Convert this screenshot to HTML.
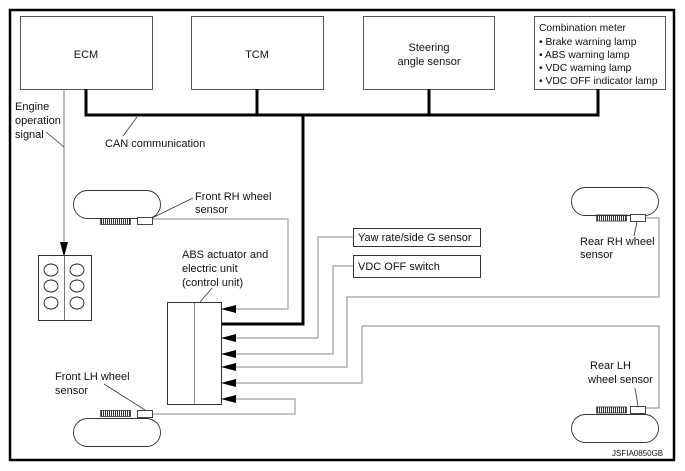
<!DOCTYPE html>
<html><head><style>
html,body{margin:0;padding:0;background:#fff;}
svg{display:block;}
text{font-family:"Liberation Sans",Arial,sans-serif;font-size:11px;fill:#111;}
</style></head><body>
<svg width="685" height="471" viewBox="0 0 685 471" xmlns="http://www.w3.org/2000/svg">
<defs>
<marker id="ar" markerWidth="15" markerHeight="8" refX="14" refY="4" orient="auto" markerUnits="userSpaceOnUse">
<path d="M0,0 L15,4 L0,8 Z" fill="#000"/>
</marker>
</defs>
<rect x="10" y="10" width="664" height="450" fill="none" stroke="#000" stroke-width="2.5"/>
<g fill="#fff" stroke="#555" stroke-width="1">
<rect x="20.5" y="16.5" width="132" height="73"/>
<rect x="191.5" y="16.5" width="132" height="73"/>
<rect x="363.5" y="16.5" width="131" height="73"/>
<rect x="534.5" y="16.5" width="131" height="73"/>
</g>
<text x="86" y="58" text-anchor="middle">ECM</text>
<text x="257" y="58" text-anchor="middle">TCM</text>
<text x="429" y="51" text-anchor="middle">Steering</text>
<text x="429" y="65" text-anchor="middle">angle sensor</text>
<g style="font-size:10.3px">
<text x="539" y="31" style="font-size:10.3px">Combination meter</text>
<text x="539" y="45" style="font-size:10.3px">• Brake warning lamp</text>
<text x="539" y="58" style="font-size:10.3px">• ABS warning lamp</text>
<text x="539" y="71" style="font-size:10.3px">• VDC warning lamp</text>
<text x="539" y="84" style="font-size:10.3px">• VDC OFF indicator lamp</text>
</g>
<g stroke="#000" stroke-width="3" fill="none">
<path d="M86,89 V115 H598 V89"/>
<path d="M257,89 V115"/>
<path d="M429,89 V115"/>
<path d="M303,115 V324 H222"/>
</g>
<text x="105" y="147">CAN communication</text>
<line x1="123" y1="136" x2="137" y2="117" stroke="#333" stroke-width="0.8"/>
<line x1="64" y1="89" x2="64" y2="256" stroke="#777" stroke-width="1" marker-end="url(#ar)"/>
<text x="15" y="110">Engine</text>
<text x="15" y="124">operation</text>
<text x="15" y="138">signal</text>
<line x1="46" y1="132" x2="64" y2="147" stroke="#333" stroke-width="0.8"/>
<rect x="38.5" y="255.5" width="53" height="65" fill="#fff" stroke="#333"/>
<line x1="64.5" y1="256" x2="64.5" y2="320" stroke="#777"/>
<g fill="none" stroke="#222" stroke-width="0.9">
<ellipse cx="51" cy="270" rx="7" ry="6"/><ellipse cx="77" cy="270" rx="7" ry="6"/>
<ellipse cx="51" cy="286" rx="7" ry="6"/><ellipse cx="77" cy="286" rx="7" ry="6"/>
<ellipse cx="51" cy="303" rx="7" ry="6"/><ellipse cx="77" cy="303" rx="7" ry="6"/>
</g>
<rect x="167.5" y="302.5" width="54" height="102" fill="#fff" stroke="#333"/>
<line x1="194.5" y1="303" x2="194.5" y2="404" stroke="#888"/>
<text x="182" y="258">ABS actuator and</text>
<text x="182" y="272">electric unit</text>
<text x="182" y="286">(control unit)</text>
<line x1="212" y1="288" x2="200" y2="302" stroke="#333" stroke-width="0.8"/>
<g fill="none" stroke="#888" stroke-width="1">
<path d="M152,219 H288 V309 H222" marker-end="url(#ar)"/>
<path d="M353,237 H318 V338 H222" marker-end="url(#ar)"/>
<path d="M353,266 H333 V354 H222" marker-end="url(#ar)"/>
<path d="M645,218 H659 V297 H347 V367 H222" marker-end="url(#ar)"/>
<path d="M645,408 H659 V326 H362 V383 H222" marker-end="url(#ar)"/>
<path d="M152,414 H295 V399 H222" marker-end="url(#ar)"/>
</g>
<g fill="#fff" stroke="#333">
<rect x="353.5" y="228.5" width="127" height="18"/>
<rect x="353.5" y="255.5" width="127" height="22"/>
</g>
<text x="358" y="241">Yaw rate/side G sensor</text>
<text x="358" y="270">VDC OFF switch</text>
<g fill="#fff" stroke="#333" stroke-width="0.9">
<rect x="73.5" y="190.5" width="87" height="28" rx="14"/>
<rect x="137.5" y="217.5" width="15" height="7"/>
<rect x="73.5" y="418.5" width="87" height="28" rx="14"/>
<rect x="137.5" y="410.5" width="15" height="7"/>
<rect x="571.5" y="187.5" width="87" height="28" rx="14"/>
<rect x="630.5" y="214.5" width="15" height="7"/>
<rect x="571.5" y="414.5" width="87" height="28" rx="14"/>
<rect x="630.5" y="406.5" width="15" height="7"/>
</g>
<g stroke="#333" stroke-width="6" stroke-dasharray="1 1">
<line x1="101" y1="221.5" x2="130" y2="221.5"/>
<line x1="101" y1="413.5" x2="130" y2="413.5"/>
<line x1="597" y1="218" x2="626" y2="218"/>
<line x1="597" y1="410" x2="626" y2="410"/>
</g>
<g fill="none" stroke="#333" stroke-width="0.8">
<rect x="100.5" y="218.5" width="30" height="6"/>
<rect x="100.5" y="410.5" width="30" height="6"/>
<rect x="596.5" y="215" width="30" height="6"/>
<rect x="596.5" y="407" width="30" height="6"/>
</g>
<text x="195" y="200">Front RH wheel</text>
<text x="195" y="213">sensor</text>
<line x1="193" y1="198" x2="152" y2="218" stroke="#333" stroke-width="0.8"/>
<text x="55" y="380">Front LH wheel</text>
<text x="55" y="394">sensor</text>
<line x1="104" y1="384" x2="145" y2="410" stroke="#333" stroke-width="0.8"/>
<text x="580" y="245">Rear RH wheel</text>
<text x="580" y="258">sensor</text>
<line x1="637" y1="222" x2="634" y2="236" stroke="#333" stroke-width="0.8"/>
<text x="590" y="369">Rear LH</text>
<text x="588" y="383">wheel sensor</text>
<line x1="635" y1="388" x2="638" y2="406" stroke="#333" stroke-width="0.8"/>
<text x="612" y="456" style="font-size:8px">JSFIA0850GB</text>
</svg>
</body></html>
